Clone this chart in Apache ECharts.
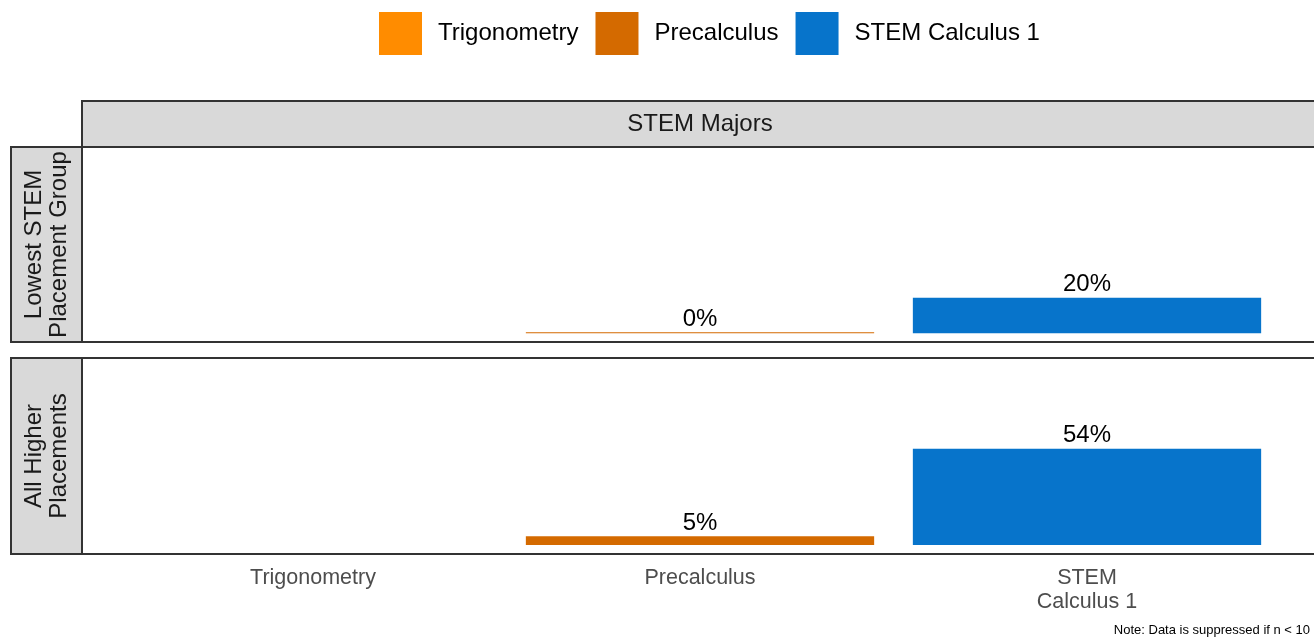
<!DOCTYPE html>
<html><head><meta charset="utf-8">
<script src="https://cdn.jsdelivr.net/npm/echarts@6/dist/echarts.min.js"></script>
<style>html,body{margin:0;padding:0;background:#fff}#c{width:1314px;height:639px}</style>
</head><body><div id="c"></div>
<script>
const categories = ['Trigonometry', 'Precalculus', 'STEM\nCalculus 1'];
const seriesNames = ['Trigonometry', 'Precalculus', 'STEM Calculus 1'];
const rowLabels = ['Lowest STEM\nPlacement Group', 'All Higher\nPlacements'];
const colLabel = 'STEM Majors';
// values per row, per category (null = suppressed)
const lowestValues = [null, 0, 20];
const higherValues = [null, 5, 54];
const colors = ['#FF8C00', '#D46A00', '#0774CB'];
const note = 'Note: Data is suppressed if n < 10';

const FONT = 'Liberation Sans, Arial, sans-serif';
const rows = [lowestValues, higherValues];
const panels = [
  {top: 147, height: 195},
  {top: 358, height: 196}
];
const grids = panels.map(p => ({left: 119.5, width: 1161, top: p.top, height: p.height}));
const series = [];
rows.forEach((vals, gi) => {
  seriesNames.forEach((name, si) => {
    series.push({
      name: name, type: 'bar', xAxisIndex: gi, yAxisIndex: gi,
      stack: 'g' + gi, barWidth: '90%', barMinHeight: 1,
      itemStyle: {color: colors[si]},
      data: categories.map((c, ci) => ci === si && vals[si] !== null ? vals[si] : '-'),
      label: {show: true, position: 'top', distance: 1, color: '#000',
        fontSize: 24, fontFamily: FONT, formatter: p => p.value + '%'}
    });
  });
});
const xAxes = grids.map((g, i) => ({
  type: 'category', gridIndex: i, data: categories, boundaryGap: true,
  axisLine: {show: false}, axisTick: {show: false}, splitLine: {show: false},
  axisLabel: {show: i === 1, color: '#4d4d4d', fontSize: 21.5, fontFamily: FONT,
    margin: 12, lineHeight: 24, interval: 0}
}));
const yAxes = grids.map((g, i) => ({
  type: 'value', gridIndex: i, min: -5, max: 105, show: false
}));
const graphic = [
  {type: 'rect', shape: {x: 82, y: 101, width: 1240, height: 46},
   style: {fill: '#d9d9d9', stroke: '#333', lineWidth: 2}, z: 10},
  {type: 'text', x: 700, y: 124, style: {text: colLabel, fill: '#1a1a1a', fontSize: 24,
   fontFamily: FONT, align: 'center', verticalAlign: 'middle'}, z: 11}
];
panels.forEach((g, i) => {
  graphic.push({type: 'rect', shape: {x: 82, y: g.top, width: 1240, height: g.height},
    style: {fill: 'none', stroke: '#333', lineWidth: 2}, z: 10});
  graphic.push({type: 'rect', shape: {x: 11, y: g.top, width: 71, height: g.height},
    style: {fill: '#d9d9d9', stroke: '#333', lineWidth: 2}, z: 10});
  graphic.push({type: 'text', x: 47, y: g.top + g.height / 2, rotation: Math.PI / 2,
    style: {text: rowLabels[i], fill: '#1a1a1a', fontSize: 24, lineHeight: 25,
    fontFamily: FONT, align: 'center', verticalAlign: 'middle'}, z: 11});
});
graphic.push({type: 'text', right: 4, bottom: 2, style: {text: note, fill: '#000',
  fontSize: 13, fontFamily: FONT}});

const chart = echarts.init(document.getElementById('c'));
chart.setOption({
  animation: false,
  legend: {left: 374, top: 7, itemWidth: 43, itemHeight: 43, itemGap: 17,
    icon: 'rect', data: seriesNames,
    textStyle: {fontSize: 24, fontFamily: FONT, color: '#000', padding: [0, 0, 0, 11]}},
  grid: grids,
  xAxis: xAxes, yAxis: yAxes, series: series, graphic: graphic
});
</script></body></html>
